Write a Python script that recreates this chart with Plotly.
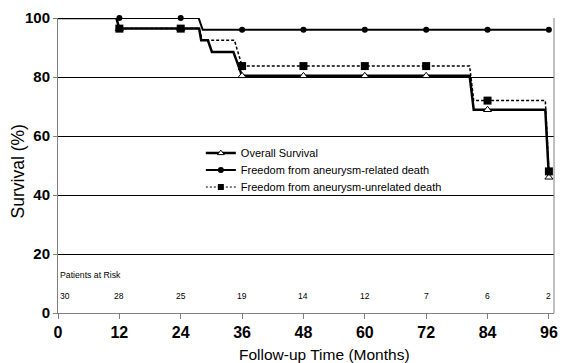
import plotly.graph_objects as go

# Kaplan-Meier style curves (time in months, survival %)
overall_t = [0, 11.4, 12.0, 27.6, 28.0, 29.3, 30.1, 34.3, 36.0, 80.5, 81.3, 95.3, 96.0]
overall_s = [100, 100, 96.4, 96.4, 92.5, 92.5, 88.5, 88.5, 80.4, 80.4, 68.9, 68.9, 46.0]

related_t = [0, 27.5, 28.3, 96.0]
related_s = [100, 100, 96.0, 96.0]

unrelated_t = [0, 11.4, 12.0, 27.6, 28.2, 34.5, 36.0, 80.5, 81.3, 95.3, 96.0]
unrelated_s = [100, 100, 96.4, 96.4, 92.5, 92.5, 83.7, 83.7, 72.0, 72.0, 48.0]

marker_months = [12, 24, 36, 48, 60, 72, 84, 96]
overall_marks = [96.4, 96.4, 80.4, 80.4, 80.4, 80.4, 68.9, 46.0]
related_marks = [100, 100, 96.0, 96.0, 96.0, 96.0, 96.0, 96.0]
unrelated_marks = [96.4, 96.4, 83.7, 83.7, 83.7, 83.7, 72.0, 48.0]

risk_months = [0, 12, 24, 36, 48, 60, 72, 84, 96]
risk_counts = [30, 28, 25, 19, 14, 12, 7, 6, 2]

x_ticks = [0, 12, 24, 36, 48, 60, 72, 84, 96]
y_ticks = [0, 20, 40, 60, 80, 100]

names = ["Overall Survival", "Freedom from aneurysm-related death",
         "Freedom from aneurysm-unrelated death"]

FONT = "Arial, Liberation Sans, sans-serif"

fig = go.Figure()

tri = dict(symbol="triangle-up", size=7, color="white", line=dict(color="black", width=1))
dot = dict(symbol="circle", size=6, color="black")
sq = dict(symbol="square", size=8, color="black")

# lines
fig.add_trace(go.Scatter(x=overall_t, y=overall_s, mode="lines",
                         line=dict(color="black", width=2.5), showlegend=False, hoverinfo="skip"))
fig.add_trace(go.Scatter(x=related_t, y=related_s, mode="lines",
                         line=dict(color="black", width=2), showlegend=False, hoverinfo="skip"))
fig.add_trace(go.Scatter(x=unrelated_t, y=unrelated_s, mode="lines",
                         line=dict(color="black", width=1.5, dash="3px,2px"), showlegend=False, hoverinfo="skip"))
# markers
fig.add_trace(go.Scatter(x=marker_months, y=overall_marks, mode="markers", marker=tri,
                         showlegend=False, cliponaxis=False))
fig.add_trace(go.Scatter(x=marker_months, y=related_marks, mode="markers", marker=dot,
                         showlegend=False, cliponaxis=False))
fig.add_trace(go.Scatter(x=marker_months, y=unrelated_marks, mode="markers", marker=sq,
                         showlegend=False, cliponaxis=False))

# legend entries (one legend per row for tight spacing)
fig.add_trace(go.Scatter(x=[None], y=[None], mode="lines+markers", name=names[0], legend="legend",
                         line=dict(color="black", width=2.5), marker=dict(tri, size=6)))
fig.add_trace(go.Scatter(x=[None], y=[None], mode="lines+markers", name=names[1], legend="legend2",
                         line=dict(color="black", width=2), marker=dict(dot, size=6)))
fig.add_trace(go.Scatter(x=[None], y=[None], mode="lines+markers", name=names[2], legend="legend3",
                         line=dict(color="black", width=1, dash="2px,2px"), marker=dict(sq, size=6)))

annotations = [dict(x=0, y=12.8, xref="x", yref="y", text="Patients at Risk", showarrow=False,
                    xanchor="left", yanchor="middle", font=dict(family=FONT, size=8.7, color="black"))]
for m, c in zip(risk_months, risk_counts):
    annotations.append(dict(x=m, y=5.7, xref="x", yref="y", text=str(c), showarrow=False,
                            xanchor="left" if m == 0 else "center", yanchor="middle",
                            font=dict(family=FONT, size=8.5, color="black")))
# axis titles
annotations.append(dict(x=-0.08, y=0.481, xref="paper", yref="paper", text="Survival (%)",
                        textangle=-90, showarrow=False, xanchor="center", yanchor="middle",
                        font=dict(family=FONT, size=17.5, color="black")))
annotations.append(dict(x=0.538, y=-0.142, xref="paper", yref="paper", text="Follow-up Time (Months)",
                        showarrow=False, xanchor="center", yanchor="middle",
                        font=dict(family=FONT, size=15.5, color="black")))

leg_common = dict(xanchor="left", yanchor="middle", bgcolor="rgba(0,0,0,0)",
                  font=dict(family=FONT, size=11, color="black"), itemwidth=30)

fig.update_layout(
    width=562, height=363,
    margin=dict(l=58, r=4, t=18, b=50),
    paper_bgcolor="white", plot_bgcolor="white",
    font=dict(family=FONT, color="black"),
    annotations=annotations,
    legend=dict(leg_common, x=0.288, y=0.542),
    legend2=dict(leg_common, x=0.288, y=0.485),
    legend3=dict(leg_common, x=0.288, y=0.427),
    xaxis=dict(range=[0, 97], tickvals=x_ticks, ticktext=[str(v) for v in x_ticks],
               showgrid=False, zeroline=False, showline=True, linecolor="#808080", linewidth=1,
               ticks="outside", ticklen=5, tickcolor="#808080",
               tickfont=dict(family=FONT, size=16, color="black", weight="bold")),
    yaxis=dict(range=[0, 100], tickvals=y_ticks, showgrid=True, gridcolor="black", gridwidth=1,
               zeroline=False, showline=True, linecolor="#808080", linewidth=1,
               ticks="outside", ticklen=4, tickcolor="#808080",
               tickfont=dict(family=FONT, size=15, color="black", weight="bold")),
)

# right border line
fig.add_shape(type="line", xref="paper", yref="paper", x0=1, x1=1, y0=0, y1=1,
              line=dict(color="#808080", width=1))

fig.write_html("out.html", config={"displayModeBar": False},
               post_script="document.body.style.margin='0';document.body.style.overflow='hidden';")
